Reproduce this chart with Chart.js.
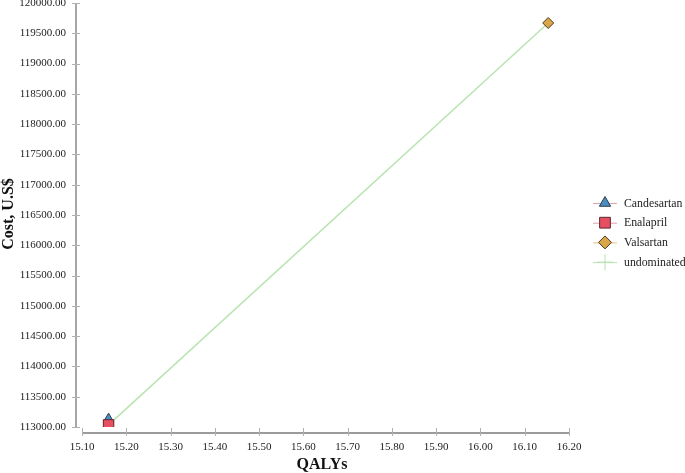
<!DOCTYPE html>
<html>
<head>
<meta charset="utf-8">
<script src="https://cdn.jsdelivr.net/npm/chart.js@4/dist/chart.umd.min.js"></script>
<style>
html,body{margin:0;padding:0;background:#fff;}
#wrap{width:685px;height:473px;position:relative;}
</style>
</head>
<body>
<div id="wrap"><canvas id="c" width="685" height="473"></canvas></div>
<script>
// Data
const seriesNames = ['Candesartan', 'Enalapril', 'Valsartan', 'undominated'];
const candesartanQALY = [15.16];
const candesartanCost = [113130];
const enalaprilQALY = [15.16];
const enalaprilCost = [113035];
const valsartanQALY = [16.153];
const valsartanCost = [119670];
const undominatedQALY = [15.16, 16.153];
const undominatedCost = [113035, 119670];
const xTicksRange = [15.10, 16.20, 0.10];
const yTicksRange = [113000, 120000, 500];
const xTitle = 'QALYs';
const yTitle = 'Cost, U.S$';

const toPts = (xs, ys) => xs.map((x, i) => ({x: x, y: ys[i]}));
const FONT = '"Liberation Serif", "Times New Roman", serif';

const styles = [
  {pointStyle: 'triangle', radius: 6, bg: '#4a8fc4', border: '#2a3a4a'},
  {pointStyle: 'rect', radius: 7.4, bg: '#e84f61', border: '#5a2a30'},
  {pointStyle: 'rectRot', radius: 5.5, bg: '#d9a548', border: '#4a3a20'},
  {pointStyle: 'cross', radius: 6, bg: '#b8e4b0', border: '#b8e4b0'}
];
const lineColors = ['#d8a8b0', '#e0a0a8', '#e0c090', '#b8e4b0'];

const axesPlugin = {
  id: 'axesPlugin',
  beforeDatasetsDraw(chart) {
    const ctx = chart.ctx;
    const xs = chart.scales.x, ys = chart.scales.y;
    const ca = chart.chartArea;
    ctx.save();
    // y axis line
    const yAxX = ca.left - 6;
    ctx.strokeStyle = '#8a8a8a';
    ctx.lineWidth = 1.5;
    ctx.beginPath();
    ctx.moveTo(yAxX, ys.getPixelForValue(yTicksRange[1]));
    ctx.lineTo(yAxX, ys.getPixelForValue(yTicksRange[0]));
    ctx.stroke();
    // y ticks
    ctx.strokeStyle = '#b0b0b0';
    ctx.lineWidth = 1;
    ys.ticks.forEach(t => {
      const py = Math.round(ys.getPixelForValue(t.value)) + 0.5;
      ctx.beginPath();
      ctx.moveTo(yAxX - 4, py);
      ctx.lineTo(yAxX + 4, py);
      ctx.stroke();
    });
    // x axis line
    const xAxY = ca.bottom + 6;
    ctx.strokeStyle = '#7a7a7a';
    ctx.lineWidth = 1.5;
    ctx.beginPath();
    ctx.moveTo(xs.getPixelForValue(xTicksRange[0]), xAxY);
    ctx.lineTo(xs.getPixelForValue(xTicksRange[1]), xAxY);
    ctx.stroke();
    ctx.strokeStyle = '#b0b0b0';
    ctx.lineWidth = 1;
    xs.ticks.forEach(t => {
      const px = Math.round(xs.getPixelForValue(t.value)) + 0.5;
      ctx.beginPath();
      ctx.moveTo(px, xAxY - 5);
      ctx.lineTo(px, xAxY + 3);
      ctx.stroke();
    });
    // titles
    ctx.fillStyle = '#111';
    ctx.font = 'bold 16px ' + FONT;
    ctx.textAlign = 'center';
    ctx.textBaseline = 'middle';
    ctx.fillText(xTitle, 322, 465);
    ctx.save();
    ctx.translate(9, 214);
    ctx.rotate(-Math.PI / 2);
    ctx.fillText(yTitle, 0, 0);
    ctx.restore();
    ctx.restore();
  },
  afterDraw(chart) {
    const ctx = chart.ctx;
    ctx.save();
    const x0 = 593, x1 = 617, xm = 605, tx = 624;
    seriesNames.forEach((name, i) => {
      const y = 203 + i * 19.7;
      ctx.strokeStyle = lineColors[i];
      ctx.lineWidth = 1;
      ctx.beginPath();
      ctx.moveTo(x0, y + 0.5);
      ctx.lineTo(x1, y + 0.5);
      ctx.stroke();
      const s = styles[i];
      ctx.fillStyle = s.bg;
      ctx.strokeStyle = s.border;
      ctx.lineWidth = 1;
      const r = i === 1 ? 7.6 : (i === 3 ? 8 : 6.5);
      Chart.helpers.drawPoint(ctx, {pointStyle: s.pointStyle, radius: r, rotation: 0, borderWidth: 1}, xm, y);
      ctx.fillStyle = '#222';
      ctx.font = '11.8px ' + FONT;
      ctx.textAlign = 'left';
      ctx.textBaseline = 'middle';
      ctx.fillText(name, tx, y + 0.5);
    });
    ctx.restore();
  }
};

const datasets = [
  {label: seriesNames[0], data: toPts(candesartanQALY, candesartanCost)},
  {label: seriesNames[1], data: toPts(enalaprilQALY, enalaprilCost)},
  {label: seriesNames[2], data: toPts(valsartanQALY, valsartanCost)},
].map((d, i) => Object.assign(d, {
  pointStyle: styles[i].pointStyle,
  pointRadius: styles[i].radius,
  pointHoverRadius: styles[i].radius,
  backgroundColor: styles[i].bg,
  borderColor: styles[i].border,
  borderWidth: 1,
  showLine: false,
  order: 3 - i
}));
datasets.unshift({
  label: seriesNames[3],
  data: toPts(undominatedQALY, undominatedCost),
  showLine: true,
  borderColor: '#b8e4b0',
  borderWidth: 1.5,
  pointRadius: 0,
  fill: false,
  order: 10
});

new Chart(document.getElementById('c'), {
  type: 'scatter',
  data: {datasets: datasets},
  plugins: [axesPlugin],
  options: {
    responsive: false,
    animation: false,
    devicePixelRatio: 1,
    layout: {autoPadding: false, padding: {top: 3, right: 116, left: 0, bottom: 0}},
    plugins: {legend: {display: false}, tooltip: {enabled: false}},
    scales: {
      x: {
        type: 'linear',
        min: xTicksRange[0], max: xTicksRange[1],
        afterFit(s) { s.height = 46; s.paddingLeft = 0; s.paddingRight = 0; s.paddingTop = 0; s.paddingBottom = 0; },
        border: {display: false},
        grid: {display: false, drawTicks: false},
        ticks: {
          stepSize: xTicksRange[2],
          padding: 14,
          color: '#222',
          font: {family: FONT, size: 11},
          maxRotation: 0,
          callback: v => Number(v).toFixed(2)
        }
      },
      y: {
        type: 'linear',
        min: yTicksRange[0], max: yTicksRange[1],
        afterFit(s) { s.width = 82; s.paddingLeft = 0; s.paddingRight = 0; s.paddingTop = 0; s.paddingBottom = 0; },
        border: {display: false},
        grid: {display: false, drawTicks: false},
        ticks: {
          stepSize: yTicksRange[2],
          padding: 16,
          color: '#222',
          font: {family: FONT, size: 11},
          callback: v => Number(v).toFixed(2)
        }
      }
    }
  }
});
</script>
</body>
</html>
